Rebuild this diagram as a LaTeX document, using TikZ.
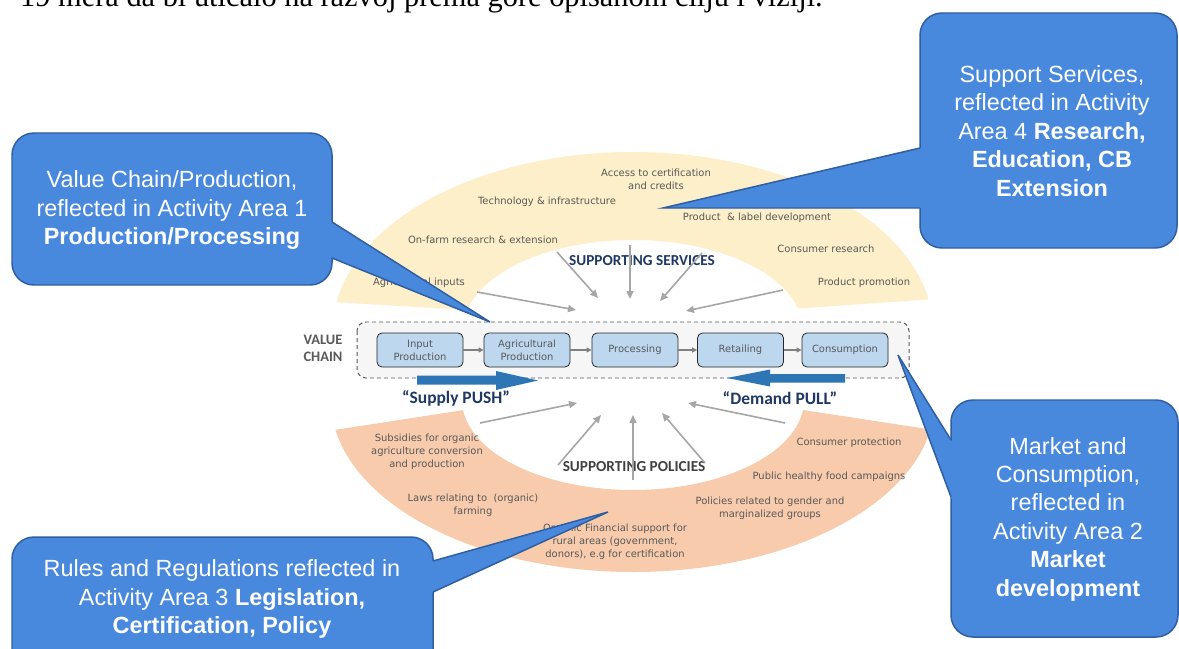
\documentclass[tikz,border=0pt]{standalone}
\usepackage{fontspec}
\setmainfont{Liberation Serif}
\newfontfamily\callf{Liberation Sans}
\newfontfamily\smf{DejaVu Sans}
\newfontfamily\carl{Carlito}
\usetikzlibrary{arrows.meta}
\definecolor{bandY}{RGB}{253,239,201}
\definecolor{bandO}{RGB}{248,203,173}
\definecolor{cfill}{RGB}{72,137,222}
\definecolor{cline}{RGB}{47,95,160}
\definecolor{boxfill}{RGB}{189,215,238}
\definecolor{vcfill}{RGB}{246,246,246}
\definecolor{graytxt}{RGB}{89,89,89}
\definecolor{navy}{RGB}{31,56,100}
\definecolor{bigblue}{RGB}{46,117,182}
\definecolor{arrgray}{RGB}{166,166,166}
\tikzset{
  sm/.style={font=\smf\fontsize{10}{13}\selectfont, text=graytxt, align=center, inner sep=0pt},
  hdr/.style={font=\carl\bfseries\fontsize{15.3}{17}\selectfont, align=center, inner sep=0pt},
  pushpull/.style={font=\carl\bfseries\fontsize{17.5}{20}\selectfont, text=navy, inner sep=0pt},
  vcbox/.style={draw=black!85, fill=boxfill, line width=0.8pt, rounded corners=5bp, minimum width=86bp, minimum height=34bp, inner sep=0pt, align=center, text=graytxt, font=\smf\fontsize{10}{13}\selectfont},
  chainarrow/.style={draw=black!50, line width=1.6pt, -{Triangle[length=5bp,width=5bp]}},
  radarrow/.style={draw=arrgray, line width=1.6pt, -{Triangle[length=8bp,width=7bp]}},
  cbox/.style={fill=cfill, draw=cline, line width=1.5pt, rounded corners=22bp},
  cedge/.style={draw=cline, line width=1.5pt, line join=miter},
  ctext/.style={font=\callf\fontsize{23.5}{28.5}\selectfont, text=white, align=center, inner sep=0pt},
}
\begin{document}
\begin{tikzpicture}[x=1bp,y=-1bp]
\useasboundingbox (0,0) rectangle (1179,649);
\fill[white] (0,0) rectangle (1179,649);

% top (cut) text line
\node[anchor=base west, inner sep=0pt, font=\fontsize{30.5}{34}\selectfont, text=black] (toptext) at (20,7) {19 mera da bi uticalo na razvoj prema gore opisanom cilju i viziji.};

% upper band
\begin{scope}
\clip (633,320) -- (0,282) -- (0,0) -- (1179,0) -- (1179,282) -- cycle;
\fill[bandY, even odd rule] (633,330) ellipse [x radius=300, y radius=178] (633,330) ellipse [x radius=170, y radius=90];
\end{scope}
% lower band
\begin{scope}
\clip (633,384) -- (0,481.5) -- (0,700) -- (1179,700) -- (1179,467.5) -- cycle;
\fill[bandO, even odd rule] (633,400) ellipse [x radius=302, y radius=172] (633,400) ellipse [x radius=171, y radius=90];
\end{scope}

% upper texts
\node[sm] (acc) at (656,179.5) {Access to certification\\and credits};
\node[sm] (tech) at (547,202) {Technology \& infrastructure};
\node[sm] (prodlab) at (757,218) {Product~ \& label development};
\node[sm] (onfarm) at (483,240) {On-farm research \& extension};
\node[sm] (cres) at (826,249) {Consumer research};
\node[sm] (agri) at (419,283) {Agricultural inputs};
\node[sm] (promo) at (864,283) {Product promotion};
\node[hdr, text=navy] (ss) at (642,261) {SUPPORTING SERVICES};

% lower texts
\node[sm] (subs) at (427,452) {Subsidies for organic\\agriculture conversion\\and production};
\node[sm] (laws) at (473,505.5) {Laws relating to~ (organic)\\farming};
\node[sm] (fin) at (615,541.5) {Organic Financial support for\\rural areas (government,\\donors), e.g for certification};
\node[sm] (cprot) at (849,443) {Consumer protection};
\node[sm] (phf) at (829,477) {Public healthy food campaigns};
\node[sm] (polg) at (770,508.5) {Policies related to gender and\\marginalized groups};
\node[hdr, text=black!75] (sp) at (634,467) {SUPPORTING POLICIES};

% radial arrows upper
\coordinate (u1s) at (477,292); \coordinate (u1e) at (576,310);
\coordinate (u2s) at (557,252); \coordinate (u2e) at (598,298);
\coordinate (u3s) at (630,245); \coordinate (u3e) at (630,299);
\coordinate (u4s) at (702,253); \coordinate (u4e) at (660,301);
\coordinate (u5s) at (783,290); \coordinate (u5e) at (686,311);
\draw[radarrow] (u1s) -- (u1e);
\draw[radarrow] (u2s) -- (u2e);
\draw[radarrow] (u3s) -- (u3e);
\draw[radarrow] (u4s) -- (u4e);
\draw[radarrow] (u5s) -- (u5e);
% radial arrows lower
\coordinate (l1s) at (480,423); \coordinate (l1e) at (577,403);
\coordinate (l2s) at (558,465); \coordinate (l2e) at (601,415);
\coordinate (l3s) at (633,480); \coordinate (l3e) at (633,415);
\coordinate (l4s) at (705,463); \coordinate (l4e) at (662,413);
\coordinate (l5s) at (785,423); \coordinate (l5e) at (688,403);
\draw[radarrow] (l1s) -- (l1e);
\draw[radarrow] (l2s) -- (l2e);
\draw[radarrow] (l3s) -- (l3e);
\draw[radarrow] (l4s) -- (l4e);
\draw[radarrow] (l5s) -- (l5e);

% value chain
\draw[draw=black!65, fill=vcfill, dashed, dash pattern=on 4bp off 3bp, line width=1pt, rounded corners=9bp] (357,322) rectangle (909,378);
\node[font=\carl\bfseries\fontsize{14.5}{17}\selectfont, text=graytxt, align=center, inner sep=0pt] (vclab) at (323,348.5) {VALUE\\CHAIN};
\node[vcbox] (inp) at (420,350) {Input\\Production};
\node[vcbox] (agr) at (527,350) {Agricultural\\Production};
\node[vcbox] (proc) at (635,350) {Processing};
\node[vcbox] (ret) at (740.5,350) {Retailing};
\node[vcbox] (cons) at (845,350) {Consumption};
\draw[chainarrow] (inp) -- (agr);
\draw[chainarrow] (agr) -- (proc);
\draw[chainarrow] (proc) -- (ret);
\draw[chainarrow] (ret) -- (cons);

% big blue arrows
\fill[bigblue] (417,375.5) -- (496,375.5) -- (496,371) -- (538,380.5) -- (496,390) -- (496,384.5) -- (417,384.5) -- cycle;
\fill[bigblue] (845,374) -- (770,374) -- (770,369.5) -- (727,378) -- (770,386.5) -- (770,382.5) -- (845,382.5) -- cycle;
\node[pushpull] (push) at (456,398) {“Supply PUSH”};
\node[pushpull] (pull) at (780,398) {“Demand PULL”};

% callout 1
\path[cbox] (12,133) rectangle (332,285);
\fill[cfill] (320,214.4) -- (490,322) -- (320,253.1) -- cycle;
\draw[cedge] (332,222) -- (490,322) -- (332,258);
\node[ctext] (c1) at (172,210) {Value Chain/Production,\\reflected in Activity Area 1\\\textbf{Production/Processing}};

% callout 2
\path[cbox] (920,13) rectangle (1177,248);
\fill[cfill] (930,145.7) -- (663,208) -- (930,208) -- cycle;
\draw[cedge] (920,148) -- (663,208) -- (920,208);
\node[ctext] (c2) at (1052,131) {Support Services,\\reflected in Activity\\Area 4 \textbf{Research,}\\\textbf{Education, CB}\\\textbf{Extension}};

% callout 3
\path[cbox] (951,400) rectangle (1178,637);
\fill[cfill] (961,456) -- (898,355) -- (961,523.8) -- cycle;
\draw[cedge] (951,440) -- (898,355) -- (951,497);
\node[ctext] (c3) at (1068,519) {Market and\\Consumption,\\reflected in\\Activity Area 2\\\textbf{Market}\\\textbf{development}};

% callout 4
\path[cbox] (12,537) rectangle (433,690);
\fill[cfill] (423,563.8) -- (608,512) -- (423,596.6) -- cycle;
\draw[cedge] (433,561) -- (608,512) -- (433,592);
\node[ctext] (c4) at (222,599) {Rules and Regulations reflected in\\Activity Area 3 \textbf{Legislation,}\\\textbf{Certification, Policy}};
\end{tikzpicture}
\end{document}
